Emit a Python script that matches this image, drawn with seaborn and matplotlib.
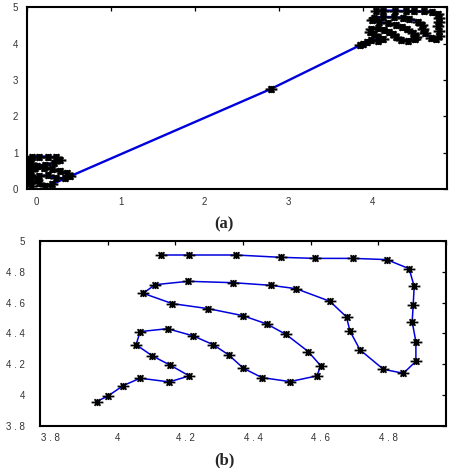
import matplotlib
matplotlib.use("Agg")
import matplotlib.pyplot as plt
import matplotlib.transforms as mtransforms
from matplotlib.path import Path
import seaborn as sns

# cluster near the origin (panel a only)
orig_x = [0.05, 0.04, 0.05, 0.04, 0.05, 0.04, 0.05, 0.04, 0.06, 0.15, 0.25, 0.35, 0.40, 0.33, 0.22,
          0.12, 0.10, 0.20, 0.30, 0.40, 0.48, 0.52, 0.45, 0.35, 0.25, 0.15, 0.12, 0.15, 0.22, 0.30]
orig_y = [0.10, 0.20, 0.30, 0.40, 0.50, 0.62, 0.72, 0.82, 0.90, 0.90, 0.90, 0.88, 0.80, 0.72, 0.68,
          0.64, 0.58, 0.58, 0.56, 0.50, 0.44, 0.36, 0.30, 0.32, 0.38, 0.36, 0.26, 0.16, 0.10, 0.14]

# single point on the way
mid_x = [2.91]
mid_y = [2.76]

# upper cluster (panel b is a zoom on it)
up_x = [3.967, 4.000, 4.046, 4.096, 4.182, 4.241, 4.184, 4.132, 4.084, 4.096,
        4.177, 4.253, 4.312, 4.358, 4.401, 4.456, 4.539, 4.618, 4.630, 4.593,
        4.527, 4.470, 4.399, 4.298, 4.191, 4.105, 4.140, 4.238, 4.371, 4.482,
        4.557, 4.657, 4.706, 4.716, 4.746, 4.815, 4.874, 4.911, 4.911, 4.900,
        4.903, 4.906, 4.891, 4.825, 4.726, 4.613, 4.511, 4.379, 4.240, 4.157]
up_y = [3.956, 3.991, 4.060, 4.108, 4.084, 4.123, 4.194, 4.253, 4.326, 4.411,
        4.430, 4.383, 4.326, 4.259, 4.173, 4.112, 4.086, 4.123, 4.188, 4.281,
        4.393, 4.461, 4.515, 4.560, 4.593, 4.660, 4.716, 4.738, 4.729, 4.712,
        4.690, 4.608, 4.506, 4.415, 4.292, 4.166, 4.140, 4.218, 4.346, 4.474,
        4.584, 4.705, 4.820, 4.879, 4.887, 4.887, 4.894, 4.909, 4.909, 4.909]

a_xticks = [0, 1, 2, 3, 4, 5]
a_xlabels = ['0', '1', '2', '3', '4', '']
a_yticks = [0, 1, 2, 3, 4, 5]
b_ticks = [3.8, 4.0, 4.2, 4.4, 4.6, 4.8, 5.0]
b_xlabels = ['3 . 8', '4', '4 . 2', '4 . 4', '4 . 6', '4 . 8', '']
b_ylabels = ['3 . 8', '4', '4 . 2', '4 . 4', '4 . 6', '4 . 8', '5']

sns.set_style('white')
plt.rcParams['font.family'] = ['Liberation Sans', 'DejaVu Sans']

# asterisk marker, wider than tall like in the scan
star = Path([(-1, 0), (1, 0), (0, -0.6), (0, 0.6), (-0.5, -0.55), (0.5, 0.55), (-0.5, 0.55), (0.5, -0.55)],
            [Path.MOVETO, Path.LINETO] * 4)

fig = plt.figure(figsize=(4.52, 4.68), dpi=100)
ax_a = fig.add_axes([26.7 / 452, 1 - 189.3 / 468, 420 / 452, 182 / 468])
ax_b = fig.add_axes([40 / 452, 1 - 425.6 / 468, 406 / 452, 184.6 / 468])

all_x = orig_x + mid_x + up_x
all_y = orig_y + mid_y + up_y
sns.lineplot(x=all_x, y=all_y, sort=False, estimator=None, ax=ax_a, color='#0000dd', lw=1.7,
             marker=star, markersize=8.5, mec='black', mew=1.6, mfc='none')
sns.lineplot(x=up_x, y=up_y, sort=False, estimator=None, ax=ax_b, color='#0000dd', lw=1.1,
             marker=star, markersize=8.5, mec='black', mew=1.3, mfc='none')

ax_a.set_xlim(0, 5)
ax_a.set_ylim(0, 5)
ax_a.set_xticks(a_xticks, a_xlabels)
ax_a.set_yticks(a_yticks, [str(t) for t in a_yticks])

ax_b.set_xlim(3.8, 5.0)
ax_b.set_ylim(3.8, 5.0)
ax_b.set_xticks(b_ticks, b_xlabels)
ax_b.set_yticks(b_ticks, b_ylabels)

shift = mtransforms.ScaledTranslation(10 / 100, 0, fig.dpi_scale_trans)
for ax, ypad in ((ax_a, 6), (ax_b, 11)):
    ax.tick_params(direction='in', top=True, right=True, length=3, width=0.9,
                   labelsize=7, colors='black', labelcolor='#333333')
    ax.tick_params(axis='x', pad=5.5)
    ax.tick_params(axis='y', pad=ypad)
    for s in ax.spines.values():
        s.set_linewidth(1.5)
        s.set_color('black')
    for lab in ax.get_xticklabels():
        lab.set_transform(lab.get_transform() + shift)
    ax.set_xlabel('')
    ax.set_ylabel('')

fig.text(224 / 452, 1 - 224 / 468, '(a)', ha='center', va='center', fontsize=12,
         fontweight='bold', family='Liberation Serif')
fig.text(224 / 452, 1 - 460 / 468, '(b)', ha='center', va='center', fontsize=12,
         fontweight='bold', family='Liberation Serif')

fig.savefig('out.png', dpi=100)
